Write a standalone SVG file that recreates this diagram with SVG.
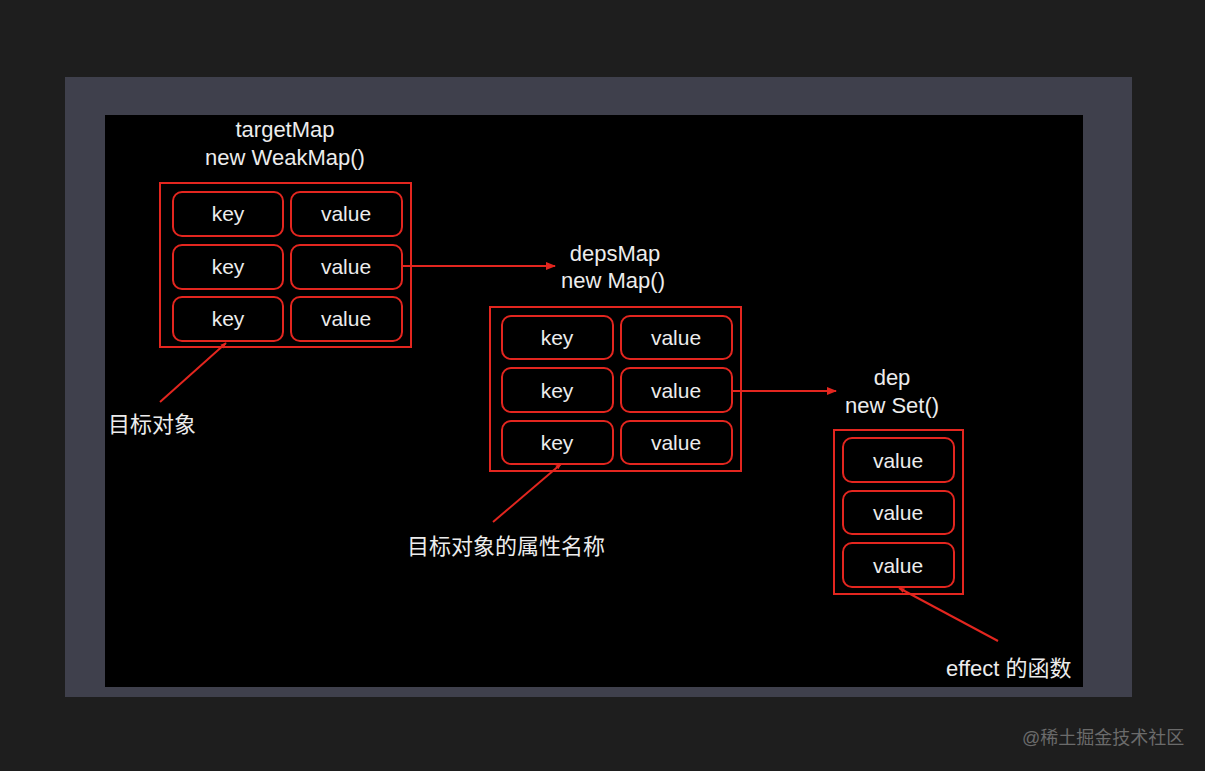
<svg xmlns="http://www.w3.org/2000/svg" width="1205" height="771" viewBox="0 0 1205 771">
<defs>
<style>
.t{font-family:"Liberation Sans",Arial,sans-serif;font-size:21px;fill:#ececec;text-anchor:middle}
.h{font-size:22px}
.c{font-family:"Liberation Sans","Noto Sans CJK SC",sans-serif;font-size:22px;fill:#ececec}
.box{fill:none;stroke:#e3261f;stroke-width:2}
.cell{fill:#000;stroke:#e3261f;stroke-width:2}
.ln{stroke:#e3261f;stroke-width:2;fill:none}
</style>
<marker id="ah" viewBox="0 0 10 10" refX="9" refY="5" markerWidth="6" markerHeight="6" orient="auto" markerUnits="userSpaceOnUse" overflow="visible">
<path d="M0,1 L10,5 L0,9 z" fill="#e3261f"/>
</marker>
<marker id="am" viewBox="0 0 10 10" refX="9" refY="5" markerWidth="10" markerHeight="10" orient="auto" markerUnits="userSpaceOnUse">
<path d="M0,1 L10,5 L0,9 z" fill="#e3261f"/>
</marker>
</defs>
<rect width="1205" height="771" fill="#1e1e1e"/>
<rect x="65" y="77" width="1067" height="620" fill="#3f404c"/>
<rect x="105" y="115" width="978" height="572" fill="#000"/>

<g id="targetMap">
<text class="t h" x="285" y="137">targetMap</text>
<text class="t h" x="285" y="165">new WeakMap()</text>
<rect class="box" x="160" y="183" width="251" height="164"/>
<rect class="cell" x="173" y="192" width="110" height="44" rx="9"/>
<rect class="cell" x="291" y="192" width="111" height="44" rx="9"/>
<rect class="cell" x="173" y="245" width="110" height="44" rx="9"/>
<rect class="cell" x="291" y="245" width="111" height="44" rx="9"/>
<rect class="cell" x="173" y="297" width="110" height="44" rx="9"/>
<rect class="cell" x="291" y="297" width="111" height="44" rx="9"/>
<text class="t" x="228" y="221">key</text>
<text class="t" x="346" y="221">value</text>
<text class="t" x="228" y="274">key</text>
<text class="t" x="346" y="274">value</text>
<text class="t" x="228" y="326">key</text>
<text class="t" x="346" y="326">value</text>
</g>

<g id="depsMap">
<text class="t h" x="615" y="261">depsMap</text>
<text class="t h" x="613" y="288">new Map()</text>
<rect class="box" x="490" y="307" width="251" height="164"/>
<rect class="cell" x="502" y="316" width="111" height="43" rx="9"/>
<rect class="cell" x="621" y="316" width="111" height="43" rx="9"/>
<rect class="cell" x="502" y="368" width="111" height="44" rx="9"/>
<rect class="cell" x="621" y="368" width="111" height="44" rx="9"/>
<rect class="cell" x="502" y="421" width="111" height="43" rx="9"/>
<rect class="cell" x="621" y="421" width="111" height="43" rx="9"/>
<text class="t" x="557" y="345">key</text>
<text class="t" x="676" y="345">value</text>
<text class="t" x="557" y="398">key</text>
<text class="t" x="676" y="398">value</text>
<text class="t" x="557" y="450">key</text>
<text class="t" x="676" y="450">value</text>
</g>

<g id="dep">
<text class="t h" x="892" y="385">dep</text>
<text class="t h" x="892" y="413">new Set()</text>
<rect class="box" x="834" y="430" width="129" height="164"/>
<rect class="cell" x="843" y="438" width="111" height="44" rx="9"/>
<rect class="cell" x="843" y="491" width="111" height="43" rx="9"/>
<rect class="cell" x="843" y="543" width="111" height="44" rx="9"/>
<text class="t" x="898" y="468">value</text>
<text class="t" x="898" y="520">value</text>
<text class="t" x="898" y="573">value</text>
</g>

<g id="labels">
<text class="c" x="108" y="432">目标对象</text>
<text class="c" x="407" y="554">目标对象的属性名称</text>
<text class="c" x="946" y="676">effect 的函数</text>
</g>

<g id="connectors">
<line class="ln" x1="402" y1="266" x2="555" y2="266" marker-end="url(#am)"/>
<line class="ln" x1="732" y1="391" x2="836" y2="391" marker-end="url(#am)"/>
<line class="ln" x1="160" y1="402" x2="226" y2="343" marker-end="url(#ah)"/>
<line class="ln" x1="493" y1="522" x2="561" y2="464" marker-end="url(#ah)"/>
<line class="ln" x1="998" y1="641" x2="899" y2="588" marker-end="url(#ah)"/>
</g>

<text x="1022" y="744" style="font-family:'Liberation Sans','Noto Sans CJK SC',sans-serif;font-size:18px;fill:#6b6b6b">@稀土掘金技术社区</text>
</svg>
